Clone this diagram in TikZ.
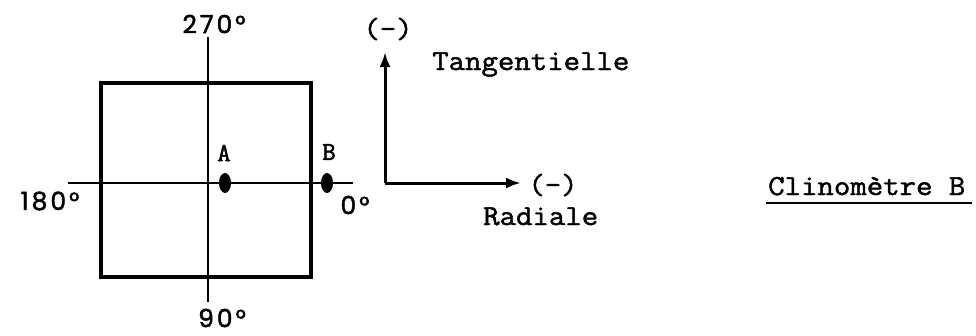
\documentclass[tikz,border=0pt]{standalone}
\usepackage{fontspec}
\setmainfont{Liberation Serif}
\newfontfamily\twfont[FakeBold=1.6,FakeStretch=1.1]{Latin Modern Mono}
\newfontfamily\labfont[FakeBold=2.2]{Latin Modern Mono}
\newfontfamily\degfont[FakeBold=1.8,LetterSpace=12]{Poppins}
\usetikzlibrary{arrows.meta}
\begin{document}
\begin{tikzpicture}[x=1pt,y=-1pt,
  tw/.style={inner sep=0pt, font=\fontsize{29}{31}\selectfont\twfont},
  deg/.style={inner sep=0pt, font=\fontsize{25}{27}\selectfont\degfont},
  lab/.style={inner sep=0pt, font=\fontsize{26}{28}\selectfont\labfont},
  frame/.style={line width=3.4pt},
  axis/.style={line width=2.2pt},
  vec/.style={line width=3pt, -{Latex[length=15pt,width=11pt]}},
  dotmark/.style={fill=black, draw=none}]
\useasboundingbox (0,0) rectangle (976,335);
% box
\draw[frame] (101,83) rectangle (311,277);
% cross lines
\coordinate (vt) at (208,37);
\coordinate (vb) at (208,302);
\coordinate (hl) at (68,183);
\coordinate (hr) at (353,183);
\draw[axis] (vt) -- (vb);
\draw[axis] (hl) -- (hr);
% dots
\fill[dotmark] (225,183) ellipse [x radius=6, y radius=10];
\fill[dotmark] (327,183) ellipse [x radius=6, y radius=10];
\node[lab] (A) at (224,153) {A};
\node[lab] (B) at (329,152) {B};
% degree labels
\node[deg] (d270) at (214,24) {270°};
\node[deg] (d90) at (222,318) {90°};
\node[deg] (d180) at (50,201) {180°};
\node[deg] (d0) at (355,205) {0°};
% axes arrows
\coordinate (o) at (385,183);
\coordinate (up) at (385,52);
\coordinate (rt) at (521,183);
\draw[vec] (o) -- (up);
\draw[vec] (o) -- (rt);
\node[tw] (mt) at (388,29) {(-)};
\node[tw] (mr) at (553,185) {(-)};
\node[tw, anchor=base west] (tan) at (432,70) {Tangentielle};
\node[tw, anchor=base west] (rad) at (483,225) {Radiale};
\node[tw, anchor=base west] (cli) at (768,195) {Clinomètre B};
\draw[line width=2.2pt] (766,203) -- (972,203);
\end{tikzpicture}
\end{document}
